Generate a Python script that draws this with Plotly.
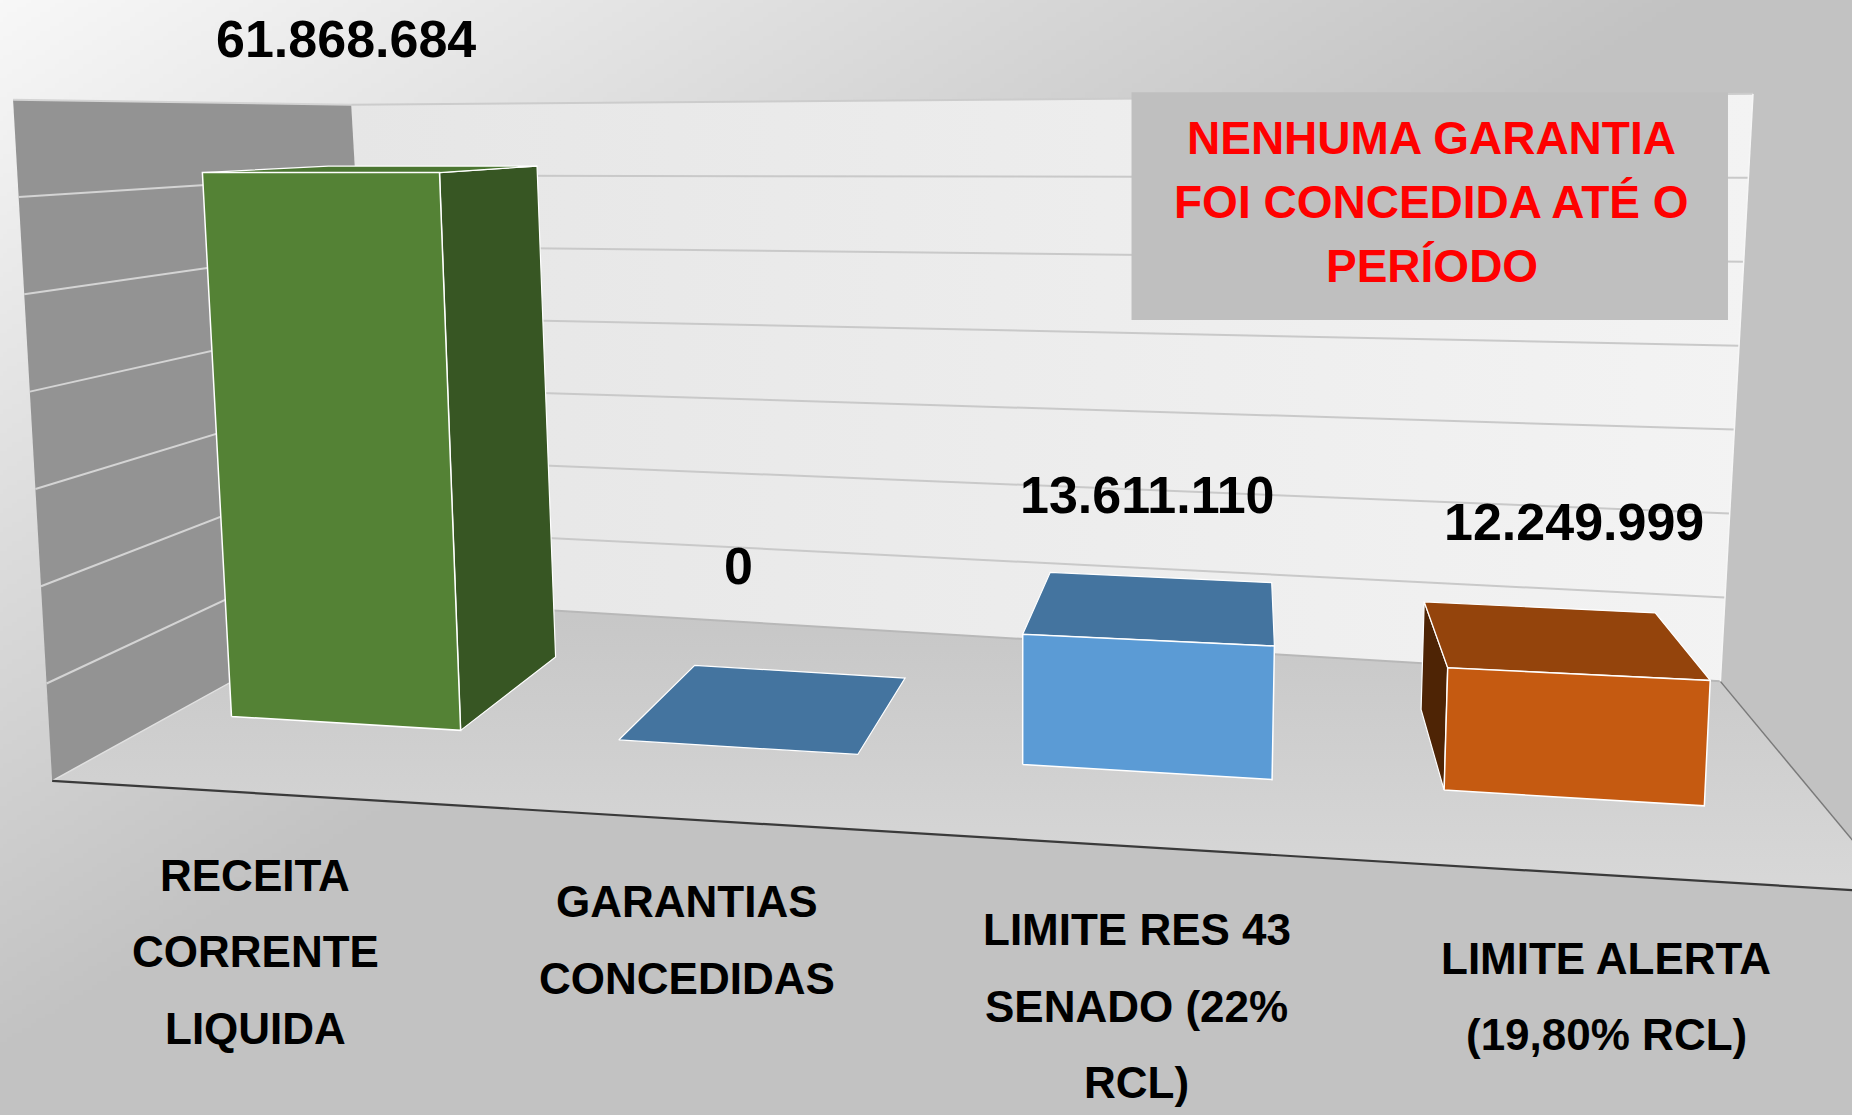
import base64, struct, zlib
import numpy as np
import plotly.graph_objects as go

# ---------------- data ----------------
categories = ["RECEITA CORRENTE LIQUIDA", "GARANTIAS CONCEDIDAS",
              "LIMITE RES 43 SENADO (22% RCL)", "LIMITE ALERTA (19,80% RCL)"]
category_lines = [["RECEITA", "CORRENTE", "LIQUIDA"],
                  ["GARANTIAS", "CONCEDIDAS"],
                  ["LIMITE RES 43", "SENADO (22%", "RCL)"],
                  ["LIMITE ALERTA", "(19,80% RCL)"]]
values = [61868684, 0, 13611110, 12249999]
value_labels = ["61.868.684", "0", "13.611.110", "12.249.999"]
grid_values = [10e6, 20e6, 30e6, 40e6, 50e6, 60e6, 70e6]
axis_max = 70e6
note_lines = ["NENHUMA GARANTIA", "FOI CONCEDIDA ATÉ O", "PERÍODO"]

# ---------------- styles ----------------
front_colors = ["#548235", "#5b9bd5", "#5b9bd5", "#c55a11"]
top_colors = ["#4b7631", "#44749f", "#44749f", "#94440c"]
side_colors = ["#375623", "#3c6a94", "#3c6a94", "#4e2405"]
FONT = "Liberation Sans, Arial, sans-serif"

# ---------------- perspective geometry (in 1568x944 canvas units) ----------------
W, H = 1568, 944
VPX, VPY = 1060.0, 100.0          # depth vanishing point
HZX = -7375.0                     # far-left vanishing x for horizontals
BY0, BX0, BSLOPE = 607.0, 203.0, 0.0607
CPX = 9.83e-4 * 1e-6              # px per value unit per px distance
LEAN, LEANX = 8.06e-5, 860.0
D_BAR, D_WALL, D_FRONT, D_LABEL = 0.12, 0.19, -0.114, -0.1
R_CAT, BASE_CAT = 1.0433, 7668.0
BAR_FRAC = 0.0253


def cat_x(u):
    return HZX + BASE_CAT * R_CAT ** u


def proj(X, Z, D):
    X = np.asarray(X, dtype=float)
    yb = BY0 + BSLOPE * (X - BX0)
    h = Z * CPX * (X - HZX)
    x0 = X + LEAN * (X - LEANX) * h
    y0 = yb - h
    return x0 + D * (VPX - x0), y0 + D * (VPY - y0)


fig = go.Figure()


def poly(pts, fill, line_color=None, lw=0, fillgradient=None):
    xs, ys = [], []
    for X, Z, D in pts:
        x, y = proj(X, Z, D)
        xs.append(float(x)); ys.append(float(y))
    xs.append(xs[0]); ys.append(ys[0])
    kw = dict(x=xs, y=ys, mode="lines", fill="toself", hoverinfo="skip", showlegend=False,
              line=dict(color=line_color or fill, width=lw if line_color else 0))
    if fillgradient is not None:
        kw["fillgradient"] = fillgradient
    else:
        kw["fillcolor"] = fill
    fig.add_trace(go.Scatter(**kw))


def polyline(seg, color, width):
    xs, ys = [], []
    for X, Z, D in seg:
        x, y = proj(X, Z, D)
        xs.append(float(x)); ys.append(float(y))
    fig.add_trace(go.Scatter(x=xs, y=ys, mode="lines", hoverinfo="skip", showlegend=False,
                             line=dict(color=color, width=width)))


XL, XR = cat_x(-0.45), cat_x(3.58)
Xs = np.linspace(XL, XR, 40)

# floor
poly([(XL, 0, D_FRONT), (XR, 0, D_FRONT), (XR, 0, D_WALL), (XL, 0, D_WALL)], "#cfcfcf",
     fillgradient=dict(type="vertical", colorscale=[[0, "#d8d8d8"], [1, "#c6c6c6"]]))
# back wall
bw = [(x, 0, D_WALL) for x in Xs] + [(x, axis_max, D_WALL) for x in Xs[::-1]]
poly(bw, "#ececec", fillgradient=dict(type="horizontal", colorscale=[[0, "#e6e6e6"], [1, "#f3f3f3"]]))
# left wall
poly([(XL, 0, D_FRONT), (XL, 0, D_WALL), (XL, axis_max, D_WALL), (XL, axis_max, D_FRONT)], "#939393")

# gridlines
for g in grid_values:
    polyline([(XL, g, D_FRONT), (XL, g, D_WALL)], "#d4d4d4", 2)
    polyline([(x, g, D_WALL) for x in Xs], "#c9c9c9" if g < axis_max else "#cccccc", 2)
# floor/back-wall edge
polyline([(x, 0, D_WALL) for x in Xs], "#b8b8b8", 2)
# left wall bottom edge
polyline([(XL, 0, D_FRONT), (XL, 0, D_WALL)], "#e0e0e0", 1.5)
# right floor edge
polyline([(XR, 0, D_WALL), (XR, 0, D_FRONT - 0.05)], "#7a7a7a", 1.5)
# right back wall edge
polyline([(XR, 0, D_WALL), (XR, axis_max, D_WALL)], "#f6f6f6", 1.5)
# floor front edge
polyline([(x, 0, D_FRONT) for x in np.linspace(XL, XR, 40)], "#3a3a3a", 2.2)

# bars
for i, v in enumerate(values):
    xc = cat_x(i)
    half = BAR_FRAC * (xc - HZX) / 2
    xl, xr = xc - half, xc + half
    fl_x, _ = proj(xl, 0, 0)
    fr_x, _ = proj(xr, 0, 0)
    if v > 0 and fr_x < VPX:
        poly([(xr, 0, 0), (xr, v, 0), (xr, v, D_BAR), (xr, 0, D_BAR)], side_colors[i], "white", 1.2)
    if v > 0 and fl_x > VPX:
        poly([(xl, 0, 0), (xl, v, 0), (xl, v, D_BAR), (xl, 0, D_BAR)], side_colors[i], "white", 1.2)
    poly([(xl, v, 0), (xr, v, 0), (xr, v, D_BAR), (xl, v, D_BAR)], top_colors[i], "white", 1.2)
    if v > 0:
        poly([(xl, 0, 0), (xr, 0, 0), (xr, v, 0), (xl, v, 0)], front_colors[i], "white", 1.5)

annotations = []
# value labels
for i, v in enumerate(values):
    xc = cat_x(i)
    zl = max(v, 4.5e6) + 15e6
    lx, _ = proj(xc, 0, 0)
    _, ly = proj(xc, zl, 0)
    annotations.append(dict(x=float(lx), y=float(ly), text=value_labels[i], showarrow=False,
                            xanchor="center", yanchor="middle",
                            font=dict(family=FONT, size=52, color="black", weight="bold")))
# category labels
for i, lines in enumerate(category_lines):
    xc = cat_x(i)
    lx, _ = proj(xc, 0, D_LABEL)
    _, fy = proj(xc, 0, D_FRONT)
    for k, t in enumerate(lines):
        annotations.append(dict(x=float(lx), y=float(fy + 70 + 65 * k), text=t, showarrow=False,
                                xanchor="center", yanchor="middle",
                                font=dict(family=FONT, size=44, color="black", weight="bold")))

# note box
shapes = [dict(type="rect", xref="x", yref="y", x0=958, x1=1463, y0=78, y1=271,
               fillcolor="#bfbfbf", line=dict(width=0), layer="above")]
for k, t in enumerate(note_lines):
    annotations.append(dict(x=1212, y=117 + 54 * k, text=t, showarrow=False,
                            xanchor="center", yanchor="middle",
                            font=dict(family=FONT, size=46, color="#ff0000", weight="bold")))

# background gradient image
bh, bw_ = 236, 392
yy, xx = np.mgrid[0:bh, 0:bw_]
t = np.clip((xx / bw_) * W / 1450 + (yy / bh) * H / 900, 0, 1)
g = (248 - 54 * t).astype(np.uint8)
arr = np.stack([g, g, g], axis=-1)


def png_uri(a):
    h, w, _ = a.shape
    raw = b"".join(b"\x00" + a[r].tobytes() for r in range(h))

    def chunk(tp, d):
        return struct.pack(">I", len(d)) + tp + d + struct.pack(">I", zlib.crc32(tp + d) & 0xffffffff)
    png = (b"\x89PNG\r\n\x1a\n" + chunk(b"IHDR", struct.pack(">IIBBBBB", w, h, 8, 2, 0, 0, 0))
           + chunk(b"IDAT", zlib.compress(raw, 9)) + chunk(b"IEND", b""))
    return "data:image/png;base64," + base64.b64encode(png).decode()


fig.update_layout(
    width=1852, height=1115,
    margin=dict(l=0, r=0, t=0, b=0),
    paper_bgcolor="#d0d0d0", plot_bgcolor="rgba(0,0,0,0)",
    xaxis=dict(range=[0, W], visible=False, fixedrange=True),
    yaxis=dict(range=[H, 0], visible=False, fixedrange=True),
    shapes=shapes, annotations=annotations,
    images=[dict(source=png_uri(arr), xref="paper", yref="paper", x=0, y=1, sizex=1, sizey=1,
                 sizing="stretch", xanchor="left", yanchor="top", layer="below")],
    showlegend=False,
)
fig.write_html("out.html", config={"displayModeBar": False},
               post_script="document.body.style.margin='0';document.body.style.overflow='hidden';")
